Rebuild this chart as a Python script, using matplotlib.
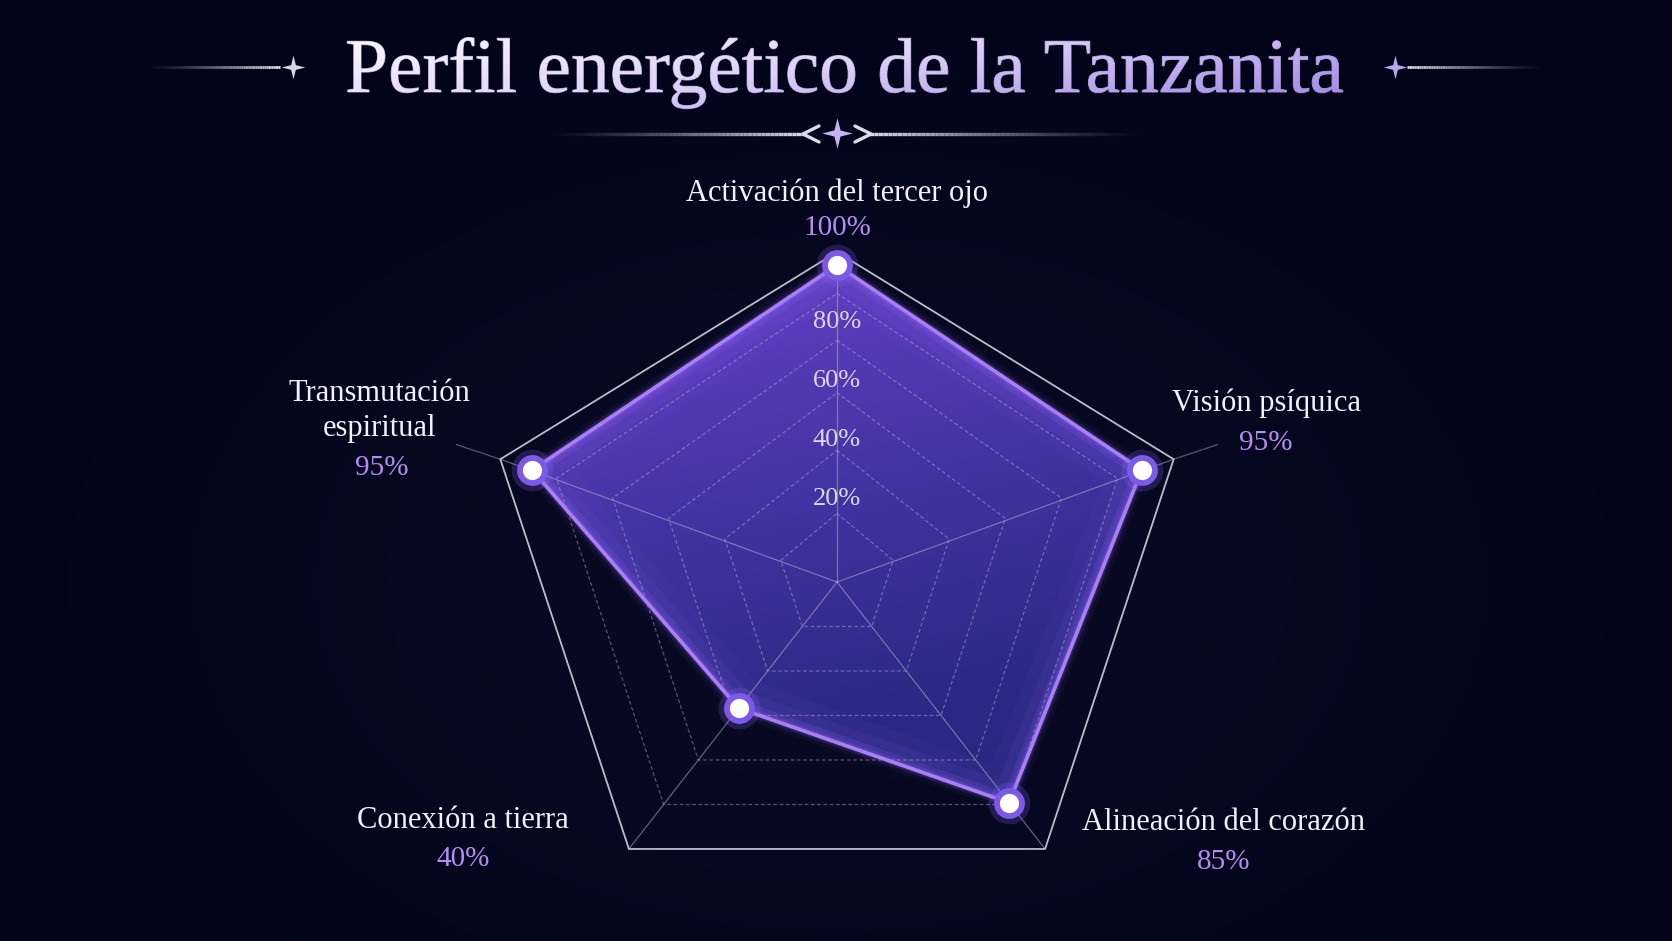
import numpy as np
import matplotlib.pyplot as plt
from matplotlib.path import Path
from matplotlib.patches import PathPatch, Polygon
from matplotlib.textpath import TextPath
from matplotlib.font_manager import FontProperties
from matplotlib.collections import LineCollection
from matplotlib.colors import LinearSegmentedColormap, to_rgba
from matplotlib.transforms import Affine2D

# --- data ---
categories = ["Activación del tercer ojo", "Visión psíquica", "Alineación del corazón",
              "Conexión a tierra", "Transmutación\nespiritual"]
values = [100, 95, 85, 40, 95]
ring_ticks = [20, 40, 60, 80]
tick_labels = ["20%", "40%", "60%", "80%"]
title = "Perfil energético de la Tanzanita"

# --- layout (pixels, y down) ---
W, H = 1672, 941
cx, cy, Rx, Ry = 837, 582, 354, 330
VMIN, VMAX = -20, 107          # radial value range (centre sits below 0)
n_rings = 6
label_pos = [(837, 193), (1266, 403), (1224, 823), (463, 820), (379, 411)]
value_dy = [35, 40, 39, 39, 57]

SERIF = "Liberation Serif"
BG_IN, BG_OUT = "#090b26", "#03041a"

fig = plt.figure(figsize=(W / 100, H / 100), dpi=100)
fig.patch.set_facecolor(BG_OUT)

# background axes in pixel coords
bg = fig.add_axes([0, 0, 1, 1])
bg.axis("off")
yy, xx = np.mgrid[0:H:4, 0:W:4]
d = np.sqrt(((xx - cx) / 900.0) ** 2 + ((yy - cy) / 600.0) ** 2)
bg_cmap = LinearSegmentedColormap.from_list("bg", [BG_IN, BG_OUT])
bg.imshow(np.clip(d, 0, 1), cmap=bg_cmap, extent=(0, W, H, 0), aspect="auto",
          interpolation="bilinear", zorder=0)


def fade_line(ax, x0, x1, y, color, lw, fade_to):
    xs = np.linspace(x0, x1, 60)
    segs = [[(xs[i], y), (xs[i + 1], y)] for i in range(len(xs) - 1)]
    t = np.linspace(0, 1, len(segs))
    a = t if fade_to == "left" else t[::-1]
    rgba = [to_rgba(color, alpha=float(v) ** 1.3) for v in a]
    ax.add_collection(LineCollection(segs, colors=rgba, linewidths=lw, zorder=2))


def star_path(a=0.2):
    verts = [(0, 1), (a, a), (1, 0), (a, -a), (0, -1), (-a, -a), (-1, 0), (-a, a), (0, 1)]
    codes = [Path.MOVETO] + [Path.LINETO] * 7 + [Path.CLOSEPOLY]
    return Path(verts, codes)


STAR = star_path(0.2)

# title with gradient (white top-left -> lavender bottom-right)
tp = TextPath((0, 0), title, size=77.5, prop=FontProperties(family=SERIF))
ext = tp.get_extents()
tx0 = 845 - (ext.x0 + ext.x1) / 2
tpath = tp.transformed(Affine2D().scale(1, -1).translate(tx0, 92))
tpatch = PathPatch(tpath, fc="none", ec="none", transform=bg.transData)
bg.add_patch(tpatch)
bg.add_patch(PathPatch(tpath, fc="none", ec="#cbbcf2", lw=0.7, alpha=0.8,
                       transform=bg.transData, zorder=3))
title_cmap = LinearSegmentedColormap.from_list("tt", ["#fbf9fe", "#ddd2f7", "#a48ce8"])
ty, tx = np.mgrid[0:1:96j, 0:1:256j]
tg = np.clip(0.72 * tx + 0.5 * (ty - 0.1), 0, 1)
tim = bg.imshow(tg, cmap=title_cmap, extent=(tx0 + ext.x0 - 5, tx0 + ext.x1 + 5, 125, 25),
                origin="upper", aspect="auto", zorder=3, interpolation="bilinear")
tim.set_clip_path(tpatch)

# title ornaments
fade_line(bg, 144, 280, 67, "#e4e4ee", 2, "left")
fade_line(bg, 1407, 1546, 67, "#e4e4ee", 2, "right")
bg.plot([293], [67], marker=STAR, ms=17, color="#d6d6e2", mew=0, zorder=3)
bg.plot([1395], [67], marker=STAR, ms=17, color="#b9a6f2", mew=0, zorder=3)
fade_line(bg, 544, 805, 134, "#dcdce6", 2.4, "left")
fade_line(bg, 869, 1146, 134, "#dcdce6", 2.4, "right")
bg.plot([819, 803, 819], [126, 134, 142], color="#dcdce6", lw=2.4, zorder=3,
        solid_capstyle="round")
bg.plot([855, 871, 855], [126, 134, 142], color="#dcdce6", lw=2.4, zorder=3,
        solid_capstyle="round")
bg.plot([837], [133], marker=STAR, ms=22, color="#c4b4f4", mew=0, zorder=3)

# category labels and values
for name, v, (lx, ly), dy in zip(categories, values, label_pos, value_dy):
    two = "\n" in name
    bg.text(lx, ly, name, family=SERIF, fontsize=22, color="#f2f0f8",
            ha="center", va="center", linespacing=1.3, zorder=4)
    bg.text(lx + (3 if two else 0), ly + dy, f"{v}%", family=SERIF, fontsize=21,
            color="#b58cf2", ha="center", va="center", zorder=4)

# ring value labels along the top spoke
for t, lab in zip(ring_ticks, tick_labels):
    bg.text(cx, cy - Ry * (0.075 + 0.0089 * t), lab, family=SERIF, fontsize=19,
            color="#dcd8ea", ha="center", va="center", zorder=6)

# --- radar axes (mild perspective stretch on the upper half) ---
K = 0.295


def y_fwd(y):
    y = np.asarray(y, dtype=float)
    return np.where(y > 0, y + K * y * (1 - y), y)


def y_inv(f):
    f = np.asarray(f, dtype=float)
    a, b = 1 + K, -K
    disc = np.clip(a * a + 4 * b * f, 0, None)
    return np.where(f > 0, (-a + np.sqrt(disc)) / (2 * b), f)


YLO, YHI = -1.5, 1.5
fhi = float(y_fwd(YHI))
ax = fig.add_axes([(cx - 1.5 * Rx) / W, (H - cy + YLO * Ry) / H,
                   3 * Rx / W, (fhi - YLO) * Ry / H])
ax.axis("off")
ax.patch.set_visible(False)
ax.set_yscale("function", functions=(y_fwd, y_inv))
ax.set_xlim(-1.5, 1.5)
ax.set_ylim(YLO, YHI)

n = len(categories)
theta = np.arange(n) * 2 * np.pi / n
ux, uy = np.sin(theta), np.cos(theta)

# data polygon
r = (np.array(values) - VMIN) / (VMAX - VMIN)
px, py = r * ux, r * uy
poly = Polygon(np.c_[px, py], closed=True, fc="none", ec="none")
ax.add_patch(poly)

# gradient fill drawn in pixel space, clipped to the data polygon
gy, gx = np.mgrid[0:1:200j, 0:1:200j]
g = np.clip(1.0 - 0.85 * gy - 0.2 * gx, 0, 1)
fill_cmap = LinearSegmentedColormap.from_list(
    "fill", ["#25267c", "#2b2984", "#3c329c", "#5739b6", "#6c43cd"])
fim = bg.imshow(g, cmap=fill_cmap, extent=(470, 1200, 880, 230), aspect="auto",
                zorder=1, interpolation="bilinear")
fim.set_clip_path(poly)

xs_c = np.append(px, px[0])
ys_c = np.append(py, py[0])
# inner glow (clipped to polygon)
for lw, al in [(44, 0.05), (26, 0.08), (12, 0.12)]:
    ln, = ax.plot(xs_c, ys_c, color="#8d66f4", lw=lw, alpha=al, zorder=2,
                  solid_joinstyle="round")
    ln.set_clip_path(poly)

# grid
for k in range(1, n_rings):
    rr = k / n_rings
    ax.plot(np.append(ux, ux[0]) * rr, np.append(uy, uy[0]) * rr, color="#b4b0d8",
            lw=0.9, alpha=0.45, ls=(0, (3, 2)), zorder=3)
ax.plot(np.append(ux, ux[0]), np.append(uy, uy[0]), color="#cfcfdc", lw=1.3,
        alpha=0.9, zorder=3)
for i in range(n):
    ax.plot([0, ux[i]], [0, uy[i]], color="#b8b6d0", lw=0.9, alpha=0.5, zorder=3)
for i in (1, n - 1):
    ax.plot([ux[i], ux[i] * 1.13], [uy[i], uy[i] * 1.13], color="#b8b6d0", lw=0.9,
            alpha=0.45, zorder=3)

# outline with soft outer glow
for lw, al in [(12, 0.05), (7, 0.1), (4.5, 0.18)]:
    ax.plot(xs_c, ys_c, color="#9a6cf5", lw=lw, alpha=al, zorder=4,
            solid_joinstyle="round")
ax.plot(xs_c, ys_c, color="#a87ff6", lw=2.6, zorder=5, solid_joinstyle="round")

# markers
ax.plot(px, py, "o", ms=30, color="#8a63f0", alpha=0.22, mew=0, zorder=6)
ax.plot(px, py, "o", ms=18, mfc="white", mec="#7c5ae8", mew=4.2, zorder=7)

bg.set_xlim(0, W)
bg.set_ylim(H, 0)

fig.savefig("out.png", dpi=100, facecolor=fig.get_facecolor())
